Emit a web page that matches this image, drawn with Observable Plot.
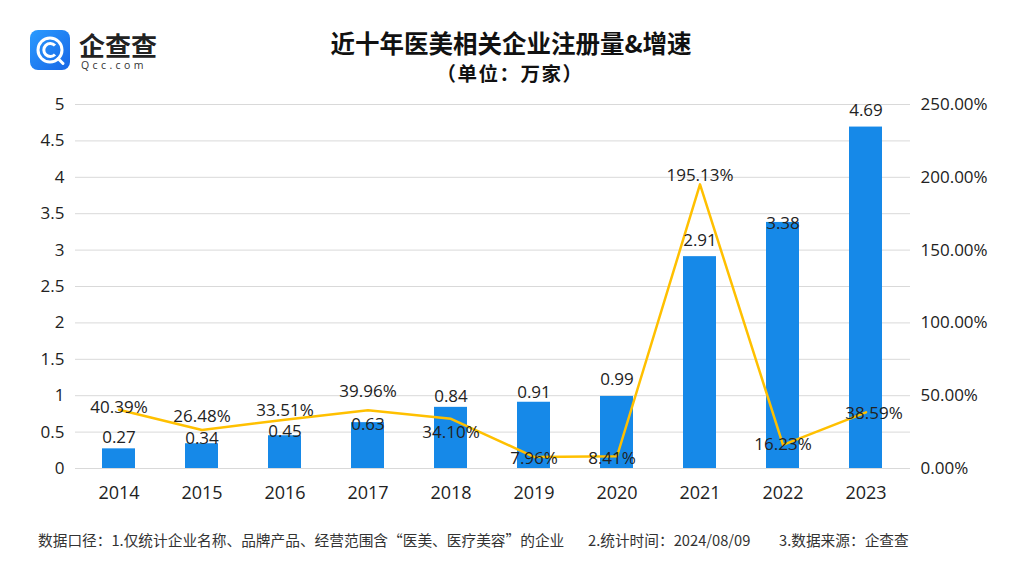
<!DOCTYPE html>
<html>
<head>
<meta charset="utf-8">
<script src="https://cdn.jsdelivr.net/npm/d3@7"></script>
<script src="https://cdn.jsdelivr.net/npm/@observablehq/plot@0.6"></script>
<style>
  html, body { margin: 0; padding: 0; background: #fff; }
  body { width: 1011px; height: 569px; position: relative; overflow: hidden;
         font-family: "Open Sans", "Noto Sans CJK SC", sans-serif; color: #222; }
  #logo { position: absolute; left: 29px; top: 17px; }
  #title { position: absolute; left: 0; width: 1022px; top: 28px; text-align: center;
           font-family: "Noto Sans CJK SC", sans-serif; font-weight: 700; font-size: 24.5px; color: #111; line-height: 29px; }
  #subtitle { position: absolute; left: 0; width: 1020px; top: 60px; text-align: center; letter-spacing: 1.5px;
           font-family: "Noto Sans CJK SC", sans-serif; font-weight: 700; font-size: 19.5px; color: #111; line-height: 26px; }
  #chart { position: absolute; left: 0; top: 90px; }
  .foot { position: absolute; top: 529px; font-family: "Noto Sans CJK SC", sans-serif;
            font-size: 14.7px; color: #333; white-space: pre; line-height: 22px; }
</style>
</head>
<body>
<svg id="logo" width="160" height="62" viewBox="0 0 160 62">
  <defs>
    <linearGradient id="lg" x1="0" y1="0" x2="1" y2="1">
      <stop offset="0" stop-color="#2a9bff"/>
      <stop offset="1" stop-color="#1866e6"/>
    </linearGradient>
  </defs>
  <rect x="1" y="13" width="40" height="40" rx="8" fill="url(#lg)"/>
  <circle cx="21" cy="33" r="12" fill="none" stroke="#fff" stroke-width="3"/>
  <path d="M 26 28.5 A 6.5 6.5 0 1 0 26 37.5" fill="none" stroke="#fff" stroke-width="3"/>
  <line x1="29" y1="41.5" x2="34" y2="46.5" stroke="#fff" stroke-width="3" stroke-linecap="round"/>
  <text x="50" y="38.5" font-family="Noto Sans CJK SC" font-weight="700" font-size="26" fill="#222">企查查</text>
  <text x="52" y="51.5" font-family="Open Sans" font-size="10.5" fill="#333" letter-spacing="3.4">Qcc.com</text>
</svg>
<div id="title">近十年医美相关企业注册量&amp;增速</div>
<div id="subtitle">（单位：万家）</div>
<div id="chart"></div>
<div class="foot" style="left:38px">数据口径：1.仅统计企业名称、品牌产品、经营范围含“医美、医疗美容”的企业</div>
<div class="foot" style="left:588px">2.统计时间：2024/08/09</div>
<div class="foot" style="left:779px">3.数据来源：企查查</div>
<script>
const years = ["2014","2015","2016","2017","2018","2019","2020","2021","2022","2023"];
const counts = [0.27, 0.34, 0.45, 0.63, 0.84, 0.91, 0.99, 2.91, 3.38, 4.69];
const growth = [40.39, 26.48, 33.51, 39.96, 34.10, 7.96, 8.41, 195.13, 16.23, 38.59];
const leftTicks = [0, 0.5, 1, 1.5, 2, 2.5, 3, 3.5, 4, 4.5, 5];
const rightTicks = [0, 50, 100, 150, 200, 250];

const rows = years.map((y, i) => ({year: y, count: counts[i], growth: growth[i]}));
const pctToLeft = 5 / 250;

// label placement tweaks (pixels)
const barDy = {"2014": -11, "2015": -5, "2016": -4, "2017": 2, "2018": -11, "2019": -10, "2020": -17, "2021": -16, "2022": 1, "2023": -17};
const pctDy = {"2014": -2, "2015": -13, "2016": -9, "2017": -19, "2018": 14, "2019": 2, "2020": 2, "2021": -9, "2022": 0, "2023": 1};
const pctDx = {"2020": -5, "2023": 8};

const barColor = "#1689e8";
const lineColor = "#FFC000";
const fs = 17;

const marks = [
  Plot.gridY(leftTicks, {stroke: "#d9d9d9", strokeOpacity: 1, strokeWidth: 1}),
  Plot.axisY(leftTicks, {anchor: "left", tickSize: 0, tickPadding: 11, fontSize: fs, label: null, tickFormat: d => String(d)}),
  Plot.axisY(rightTicks.map(v => v * pctToLeft), {anchor: "right", tickSize: 0, tickPadding: 10, fontSize: fs, label: null,
    tickFormat: d => (d / pctToLeft).toFixed(2) + "%"}),
  Plot.axisX({tickSize: 0, tickPadding: 18, fontSize: 18, label: null}),
  Plot.barY(rows, {x: "year", y: "count", fill: barColor}),
  Plot.lineY(rows, {x: "year", y: d => d.growth * pctToLeft, stroke: lineColor, strokeWidth: 2.5})
];
rows.forEach(r => {
  marks.push(Plot.text([r], {x: "year", y: "count", text: d => d.count.toFixed(2), dy: barDy[r.year], fontSize: fs, fill: "#222"}));
  marks.push(Plot.text([r], {x: "year", y: d => d.growth * pctToLeft, text: d => d.growth.toFixed(2) + "%", dy: pctDy[r.year], dx: pctDx[r.year] || 0, fontSize: fs, fill: "#222"}));
});

const chart = Plot.plot({
  width: 1011,
  height: 418,
  marginTop: 14,
  marginBottom: 40,
  marginLeft: 75,
  marginRight: 101,
  style: {fontFamily: "'Open Sans','Noto Sans CJK SC',sans-serif", fontSize: "17px", color: "#222", background: "transparent"},
  x: {type: "band", domain: years, paddingInner: 0.6, paddingOuter: 0.3},
  y: {domain: [0, 5]},
  marks
});
document.getElementById("chart").appendChild(chart);
</script>
</body>
</html>
